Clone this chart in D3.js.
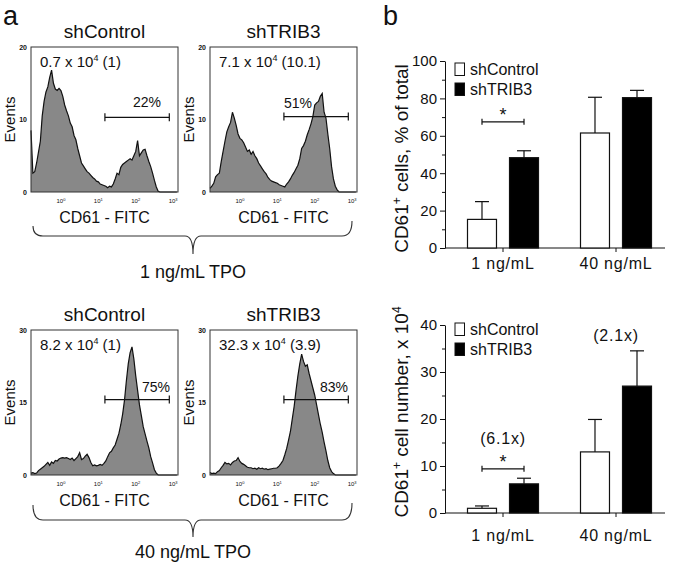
<!DOCTYPE html>
<html><head><meta charset="utf-8">
<script src="https://cdn.jsdelivr.net/npm/d3@7"></script>
<style>
body{margin:0;background:#fff}
svg{display:block}
text{font-family:"Liberation Sans",Arial,Helvetica,sans-serif;fill:#111}
</style>
</head><body>
<svg id="c" width="675" height="566"></svg>
<script>
// ---------- DATA: panel a (flow histograms) ----------
const fitcLog = [-0.8,-0.75,-0.7,-0.65,-0.6,-0.55,-0.5,-0.45,-0.4,-0.35,
  -0.3,-0.25,-0.2,-0.15,-0.1,-0.05,0,0.05,0.1,0.15,
  0.2,0.25,0.3,0.35,0.4,0.45,0.5,0.55,0.6,0.65,
  0.7,0.75,0.8,0.85,0.9,0.95,1,1.05,1.1,1.15,
  1.2,1.25,1.3,1.35,1.4,1.45,1.5,1.55,1.6,1.65,
  1.7,1.75,1.8,1.85,1.9,1.95,2,2.05,2.1,2.15,
  2.2,2.25,2.3,2.35,2.4,2.45,2.5,2.55,2.6,2.65,
  2.7,2.75,2.8,2.85,2.9,2.95,3,3.05,3.1];

const eventsCtrl1 = [8.5,2.6,2.8,4.0,5.5,7.0,10.5,12.5,13.8,14.5,
  15.8,16.8,15.0,14.2,14.0,14.3,14.0,13.2,12.0,11.2,
  10.5,9.5,9.0,7.8,7.2,6.0,5.0,4.0,3.6,3.2,
  2.8,2.6,2.3,2.0,1.8,1.5,1.4,1.1,1.0,0.9,
  0.8,0.6,0.8,0.7,1.1,1.8,2.6,2.4,3.4,3.8,
  4.0,4.2,4.4,4.6,4.4,5.0,5.6,7.1,5.0,5.4,
  5.8,5.9,5.0,4.2,3.5,2.6,1.6,0.7,0.1,0,
  0,0,0,0,0,0,0,0,0];
const eventsTrib1 = [0.5,0.8,1.2,2.1,2.4,2.6,4.2,5.6,7.0,8.3,
  9.0,9.6,11.0,10.2,9.2,8.0,7.4,7.2,6.8,6.2,
  5.6,5.8,5.2,5.6,5.0,4.6,4.0,3.6,3.2,2.8,
  2.5,2.0,1.7,1.5,1.4,1.3,1.2,1.0,0.9,0.8,
  0.7,1.1,1.4,1.8,2.3,2.7,3.2,3.7,4.6,6.0,
  6.4,7.0,7.9,8.6,9.4,10.4,12.0,12.3,12.5,13.2,
  13.6,11.0,10.2,8.0,6.0,3.5,1.8,0.8,0.3,0,
  0,0,0,0,0,0,0,0,0];
const eventsCtrl40 = [0.4,0.5,0.3,0.4,0.9,1.2,1.5,1.8,2.2,2.6,
  2.0,2.7,2.4,3.0,2.9,3.3,3.5,3.6,3.5,3.6,
  3.4,3.2,3.5,3.0,3.4,3.8,4.6,3.2,3.4,3.9,
  4.3,3.6,2.6,1.9,2.1,1.9,2.0,2.2,2.0,2.4,
  2.9,3.8,4.6,4.9,5.6,6.2,7.4,8.6,10.4,12.6,
  15.5,19.5,23.0,25.3,26.5,24.0,20.5,17.5,14.5,12.3,
  10.0,8.5,7.0,5.6,3.8,2.5,1.1,0.4,0,0,
  0,0,0,0,0,0,0,0,0];
const eventsTrib40 = [0.5,0.3,0.4,0.3,0.7,0.9,1.5,2.0,2.6,2.3,
  2.4,2.1,2.6,2.9,3.0,3.6,2.8,2.4,2.2,1.9,
  1.6,1.5,1.5,1.3,1.4,1.2,1.5,1.3,1.4,1.2,
  1.3,1.1,1.2,1.3,1.4,1.4,1.5,1.9,2.4,3.0,
  4.2,5.5,7.2,9.0,11.6,14.2,17.5,20.5,23.0,25.0,
  23.5,22.5,22.8,21.0,19.5,18.0,16.5,14.5,12.5,10.5,
  8.8,6.8,5.0,3.0,1.5,0.7,0.3,0,0,0,
  0,0,0,0,0,0,0,0,0];

const histTitles = ["shControl","shTRIB3","shControl","shTRIB3"];
const countMain = ["0.7 x 10","7.1 x 10","8.2 x 10","32.3 x 10"];
const countTail = [" (1)"," (10.1)"," (1)"," (3.9)"];
const gatePct = ["22%","51%","75%","83%"];
const gateFrom = 15, gateTo = 790;          // CD61-FITC gate limits
const gateLevel = [10.3, 10.4, 15.6, 15.6];  // events level of the gate bar
const histYMax = [20, 20, 30, 30];
const histYTicks = [[0,10,20],[0,10,20],[0,15,30],[0,15,30]];
const fitcTicks = [1,10,100,1000];
const tpoLabels = ["1 ng/mL TPO","40 ng/mL TPO"];

// ---------- DATA: panel b (bar charts) ----------
const doses = ["1 ng/mL","40 ng/mL"];
const groups = ["shControl","shTRIB3"];
const pctControl = [15.3, 61.5], pctControlErr = [9.5, 19.1];
const pctTrib = [48.3, 80.4], pctTribErr = [3.7, 3.9];
const numControl = [1.0, 13.0], numControlErr = [0.5, 6.9];
const numTrib = [6.2, 27.0], numTribErr = [1.2, 7.5];
const foldLabels = ["(6.1x)", "(2.1x)"];
const pctTicks = [0,20,40,60,80,100], pctMinor = [10,30,50,70,90];
const numTicks = [0,10,20,30,40], numMinor = [5,15,25,35];

// ---------- DRAW ----------
const svg = d3.select("#c");
const FONT = '"Liberation Sans",Arial,sans-serif';

svg.append("text").attr("x",3).attr("y",25).attr("font-size",27).text("a");
svg.append("text").attr("x",383).attr("y",25).attr("font-size",27).text("b");

const histData = [eventsCtrl1, eventsTrib1, eventsCtrl40, eventsTrib40];
const boxes = [
  {x0:31, x1:178, y0:47, y1:192, pctX:147, pctY:107},
  {x0:210, x1:357, y0:47, y1:192, pctX:298, pctY:108},
  {x0:31, x1:178, y0:330, y1:475, pctX:156, pctY:392},
  {x0:210, x1:357, y0:330, y1:475, pctX:334, pctY:392}
];

boxes.forEach((b, i) => {
  const g = svg.append("g");
  const x = d3.scaleLog().domain([Math.pow(10,-0.8), Math.pow(10,3.13)]).range([b.x0, b.x1]);
  const y = d3.scaleLinear().domain([0, histYMax[i]]).range([b.y1, b.y0]);
  const pts = fitcLog.map((v, k) => [Math.pow(10, v), histData[i][k]]);
  const area = d3.area().x(d => x(d[0])).y0(y(0)).y1(d => y(d[1]));
  const line = d3.line().x(d => x(d[0])).y(d => y(d[1]));
  g.append("path").attr("d", area(pts)).attr("fill", "#888");
  g.append("path").attr("d", line(pts)).attr("fill", "none").attr("stroke", "#111").attr("stroke-width", 1.2);
  g.append("rect").attr("x", b.x0).attr("y", b.y0).attr("width", b.x1 - b.x0).attr("height", b.y1 - b.y0)
    .attr("fill", "none").attr("stroke", "#333").attr("stroke-width", 1);

  histYTicks[i].forEach(t => {
    g.append("text").attr("x", b.x0 - 4).attr("y", y(t) + 2.5).attr("text-anchor", "end")
      .attr("font-size", 7).attr("font-weight", "bold").text(t);
  });
  fitcTicks.forEach((t, k) => {
    const tx = g.append("text").attr("x", x(t)).attr("y", b.y1 + 11).attr("text-anchor", "middle")
      .attr("font-size", 6).attr("fill", "#333");
    tx.append("tspan").text("10");
    tx.append("tspan").attr("dy", -2).attr("font-size", 4).text(k);
  });
  g.append("text").attr("x", (b.x0 + b.x1) / 2).attr("y", b.y1 + 31).attr("text-anchor", "middle")
    .attr("font-size", 16).text("CD61 - FITC");
  g.append("text").attr("transform", `translate(${b.x0 - 16},${(b.y0 + b.y1) / 2}) rotate(-90)`)
    .attr("text-anchor", "middle").attr("font-size", 15).text("Events");
  g.append("text").attr("x", (b.x0 + b.x1) / 2).attr("y", b.y0 - 9).attr("text-anchor", "middle")
    .attr("font-size", 19).text(histTitles[i]);
  const ct = g.append("text").attr("x", b.x0 + 9).attr("y", b.y0 + 20).attr("font-size", 15);
  ct.append("tspan").text(countMain[i]);
  ct.append("tspan").attr("dy", -6).attr("font-size", 9).text("4");
  ct.append("tspan").attr("dy", 6).text(countTail[i]);
  const gy = y(gateLevel[i]);
  const gx0 = x(gateFrom), gx1 = x(gateTo);
  g.append("line").attr("x1", gx0).attr("x2", gx1).attr("y1", gy).attr("y2", gy).attr("stroke", "#111").attr("stroke-width", 1.2);
  [gx0, gx1].forEach(xx => g.append("line").attr("x1", xx).attr("x2", xx).attr("y1", gy - 4).attr("y2", gy + 4)
    .attr("stroke", "#111").attr("stroke-width", 1.2));
  g.append("text").attr("x", b.pctX).attr("y", b.pctY).attr("text-anchor", "middle").attr("font-size", 14).text(gatePct[i]);
});

function brace(xl, xr, xm, yEndL, yEndR, yH, yTip) {
  const p = d3.path();
  p.moveTo(xl, yEndL);
  p.quadraticCurveTo(xl, yH, xl + 10, yH);
  p.lineTo(xm - 8, yH);
  p.quadraticCurveTo(xm, yH, xm, yTip);
  p.quadraticCurveTo(xm, yH, xm + 8, yH);
  p.lineTo(xr - 10, yH);
  p.quadraticCurveTo(xr, yH, xr, yEndR);
  svg.append("path").attr("d", p.toString()).attr("fill", "none").attr("stroke", "#333").attr("stroke-width", 1.1);
}
brace(33, 352, 193, 226, 221, 236, 254);
brace(33, 352, 193, 505, 503, 520, 537);
svg.append("text").attr("x", 193).attr("y", 278).attr("text-anchor", "middle").attr("font-size", 18).text(tpoLabels[0]);
svg.append("text").attr("x", 193).attr("y", 558).attr("text-anchor", "middle").attr("font-size", 18).text(tpoLabels[1]);

function barChart(o) {
  const g = svg.append("g");
  const y = d3.scaleLinear().domain([0, o.max]).range([o.yBottom, o.yTop]);
  const x0 = d3.scaleBand().domain(doses).range([446.5, 672.5]).padding(0);
  const x1 = d3.scaleBand().domain(groups).range([0, 71]).paddingInner(0.31);
  const bx = (d, s) => x0(d) + x0.bandwidth() / 2 - 35.5 + x1(s);
  const series = [
    {s: groups[0], v: o.ctrl, e: o.ctrlErr, fill: "#fff"},
    {s: groups[1], v: o.trib, e: o.tribErr, fill: "#000"}
  ];
  const yAxis = d3.axisLeft(y).tickValues(o.ticks).tickSize(5).tickSizeOuter(0).tickPadding(3);
  const ya = g.append("g").attr("transform", `translate(445,0)`).call(yAxis);
  ya.selectAll("text").attr("font-size", 15).attr("font-family", FONT).attr("fill", "#111");
  ya.selectAll("line,path").attr("stroke", "#111");
  const ym = g.append("g").attr("transform", `translate(445,0)`)
    .call(d3.axisLeft(y).tickValues(o.minor).tickSize(3).tickFormat(""));
  ym.select("path").remove();
  ym.selectAll("line").attr("stroke", "#111");
  g.append("line").attr("x1", 445).attr("x2", 665).attr("y1", y(0)).attr("y2", y(0)).attr("stroke", "#111");
  doses.forEach((d, i) => {
    const cx = x0(d) + x0.bandwidth() / 2;
    g.append("line").attr("x1", cx).attr("x2", cx).attr("y1", y(0)).attr("y2", y(0) + 4).attr("stroke", "#111");
    g.append("text").attr("x", cx).attr("y", y(0) + o.labelDy).attr("text-anchor", "middle")
      .attr("font-size", 16).attr("letter-spacing", 0.8).text(d);
  });
  series.forEach(sr => {
    doses.forEach((d, i) => {
      const xx = bx(d, sr.s), w = x1.bandwidth(), cx = xx + w / 2;
      const top = y(sr.v[i]), etop = y(sr.v[i] + sr.e[i]);
      g.append("line").attr("x1", cx).attr("x2", cx).attr("y1", top).attr("y2", etop).attr("stroke", "#111").attr("stroke-width", 1.2);
      g.append("line").attr("x1", cx - 7).attr("x2", cx + 7).attr("y1", etop).attr("y2", etop).attr("stroke", "#111").attr("stroke-width", 1.2);
      g.append("rect").attr("x", xx).attr("y", top).attr("width", w).attr("height", y(0) - top)
        .attr("fill", sr.fill).attr("stroke", "#111").attr("stroke-width", 1.2);
    });
  });
  const c0 = bx(doses[0], groups[0]) + x1.bandwidth() / 2, c1 = bx(doses[0], groups[1]) + x1.bandwidth() / 2;
  const sy = y(o.sig);
  g.append("line").attr("x1", c0).attr("x2", c1).attr("y1", sy).attr("y2", sy).attr("stroke", "#111").attr("stroke-width", 1.2);
  [c0, c1].forEach(xx => g.append("line").attr("x1", xx).attr("x2", xx).attr("y1", sy - 3).attr("y2", sy + 3).attr("stroke", "#111").attr("stroke-width", 1.2));
  g.append("text").attr("x", (c0 + c1) / 2).attr("y", sy - 1).attr("text-anchor", "middle").attr("font-size", 18).text("*");
  series.forEach((sr, k) => {
    const ly = o.legendY + k * 20;
    g.append("rect").attr("x", 455).attr("y", ly).attr("width", 9.5).attr("height", 12.5)
      .attr("fill", sr.fill).attr("stroke", "#111").attr("stroke-width", 1);
    g.append("text").attr("x", 470).attr("y", ly + 12).attr("font-size", 16).text(sr.s);
  });
  const t = g.append("text").attr("transform", `translate(408,${(o.yTop + o.yBottom) / 2 + o.labelShift}) rotate(-90)`)
    .attr("text-anchor", "middle").attr("font-size", 19);
  o.ylabel.forEach(part => {
    const ts = t.append("tspan").text(part.t);
    if (part.sup) ts.attr("dy", -7).attr("font-size", 12);
    else if (part.after) ts.attr("dy", 7);
  });
  return {g, y, x0};
}

barChart({
  max: 100, yTop: 61, yBottom: 248, ticks: pctTicks, minor: pctMinor,
  ctrl: pctControl, ctrlErr: pctControlErr, trib: pctTrib, tribErr: pctTribErr,
  sig: 67.5, legendY: 63, labelDy: 21, labelShift: 4,
  ylabel: [{t: "CD61"}, {t: "+", sup: true}, {t: " cells, % of total", after: true}]
});
const bot = barChart({
  max: 40, yTop: 325, yBottom: 513, ticks: numTicks, minor: numMinor,
  ctrl: numControl, ctrlErr: numControlErr, trib: numTrib, tribErr: numTribErr,
  sig: 9.4, legendY: 323, labelDy: 28, labelShift: -7,
  ylabel: [{t: "CD61"}, {t: "+", sup: true}, {t: " cell number, x 10", after: true}, {t: "4", sup: true}]
});
const foldValue = [numTrib[0] + numTribErr[0], numTrib[1] + numTribErr[1]];
doses.forEach((d, i) => {
  const cx = bot.x0(d) + bot.x0.bandwidth() / 2;
  svg.append("text").attr("x", cx).attr("y", i === 0 ? bot.y(foldValue[i]) - 34 : bot.y(foldValue[i]) - 10)
    .attr("text-anchor", "middle").attr("font-size", 16).attr("letter-spacing", 0.8).text(foldLabels[i]);
});
</script>
</body></html>
